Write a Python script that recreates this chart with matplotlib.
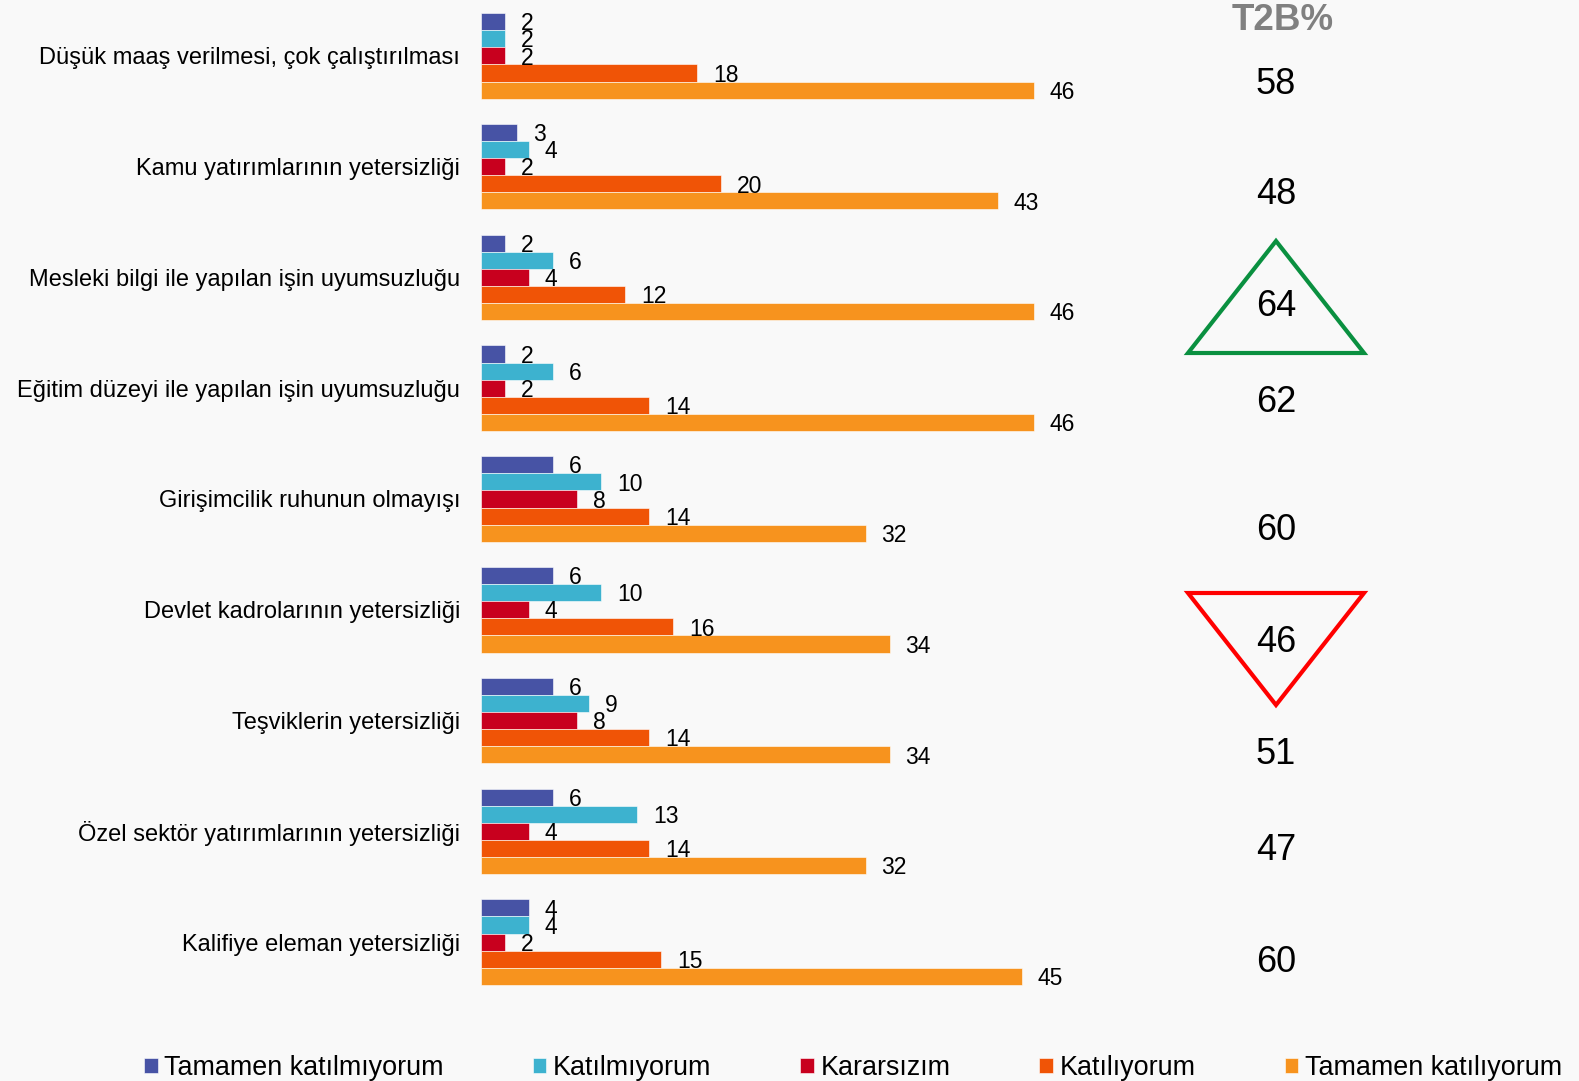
import numpy as np
import matplotlib.pyplot as plt
from matplotlib.patches import Polygon

plt.rcParams['font.family'] = ['Liberation Sans', 'DejaVu Sans']

# Data
categories = [
    "Düşük maaş verilmesi, çok çalıştırılması",
    "Kamu yatırımlarının yetersizliği",
    "Mesleki bilgi ile yapılan işin uyumsuzluğu",
    "Eğitim düzeyi ile yapılan işin uyumsuzluğu",
    "Girişimcilik ruhunun olmayışı",
    "Devlet kadrolarının yetersizliği",
    "Teşviklerin yetersizliği",
    "Özel sektör yatırımlarının yetersizliği",
    "Kalifiye eleman yetersizliği",
]
series_names = ["Tamamen katılmıyorum", "Katılmıyorum", "Kararsızım",
                "Katılıyorum", "Tamamen katılıyorum"]
tamamen_katilmiyorum = [2, 3, 2, 2, 6, 6, 6, 6, 4]
katilmiyorum = [2, 4, 6, 6, 10, 10, 9, 13, 4]
kararsizim = [2, 2, 4, 2, 8, 4, 8, 4, 2]
katiliyorum = [18, 20, 12, 14, 14, 16, 14, 14, 15]
tamamen_katiliyorum = [46, 43, 46, 46, 32, 34, 34, 32, 45]
t2b = [58, 48, 64, 62, 60, 46, 51, 47, 60]

colors = ["#4753A5", "#3DB2CF", "#C8001E", "#F05406", "#F7931E"]
series = [tamamen_katilmiyorum, katilmiyorum, kararsizim,
          katiliyorum, tamamen_katiliyorum]

W, H = 1579, 1081
fig = plt.figure(figsize=(W / 100, H / 100), dpi=100)
fig.patch.set_facecolor("#f9f9f9")

# bar axes, placed in pixels
px_unit = 12.02
x0, top, ax_h = 481, 0.5, 997
ax = fig.add_axes([x0 / W, (H - top - ax_h) / H, 50 * px_unit / W, ax_h / H])
ax.set_facecolor("none")
ax.set_xlim(0, 50)
ax.set_ylim(8.5, -0.5)

y = np.arange(len(categories))
h = 17 / 110
for k, (vals, c, name) in enumerate(zip(series, colors, series_names)):
    pos = y + (k - 2) * h
    ax.barh(pos, vals, height=h, color=c, label=name,
            edgecolor="#ffffff", linewidth=0.4)
    for p, v in zip(pos, vals):
        ax.text(v + 1.3, p + 0.02, str(v), va="center", ha="left", fontsize=16.5)

ax.set_yticks(y)
ax.set_yticklabels(categories, fontsize=17)
ax.tick_params(axis="y", length=0, pad=15)
ax.set_xticks([])
for s in ax.spines.values():
    s.set_visible(False)

# overlay in pixel coordinates for the T2B column
ov = fig.add_axes([0, 0, 1, 1])
ov.set_xlim(0, W)
ov.set_ylim(H, 0)
ov.axis("off")
ov.patch.set_alpha(0)

ov.text(1283, 21, "T2B%", ha="center", va="center", fontsize=26.5,
        fontweight="bold", color="#808080")
t2b_y = [84, 195, 307, 403, 531, 642, 754, 851, 963]
for v, ty in zip(t2b, t2b_y):
    ov.text(1276, ty, str(v), ha="center", va="center", fontsize=26)

ov.add_patch(Polygon([(1188, 353), (1276, 241), (1364, 353)], closed=True,
                     fill=False, edgecolor="#0A9040", linewidth=3))
ov.add_patch(Polygon([(1188, 593), (1364, 593), (1276, 705)], closed=True,
                     fill=False, edgecolor="#FF0000", linewidth=3))

fig.legend(*ax.get_legend_handles_labels(), loc="center",
           bbox_to_anchor=(853 / W, 1 - 1068 / H), ncol=5, frameon=False,
           fontsize=19.4, handlelength=0.5, handleheight=0.5,
           handletextpad=0.25, columnspacing=3.3, borderaxespad=0)

fig.savefig("out.png", dpi=100, facecolor=fig.get_facecolor())
